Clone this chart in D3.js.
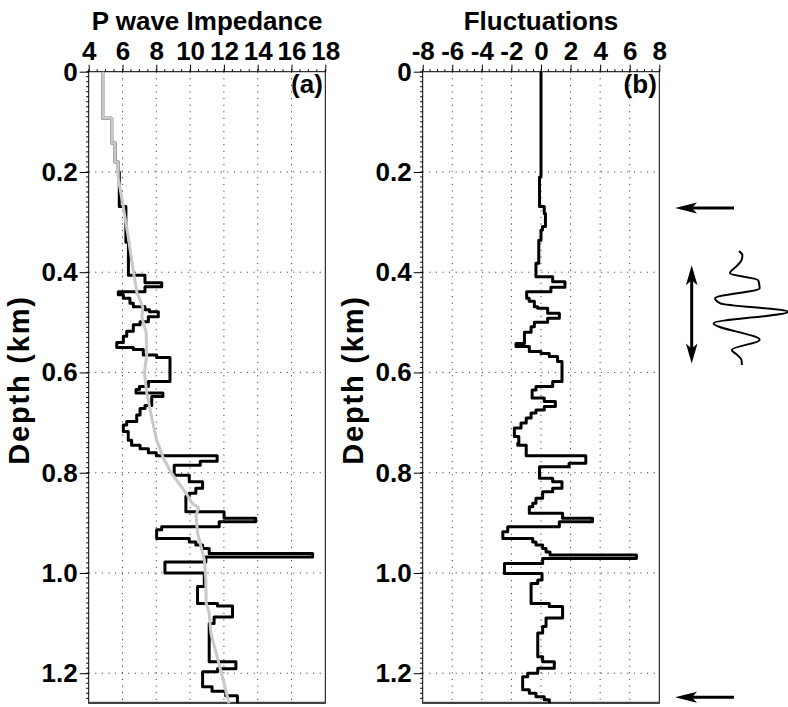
<!DOCTYPE html>
<html>
<head>
<meta charset="utf-8">
<script src="https://cdn.jsdelivr.net/npm/d3@7"></script>
<style>
  body { margin: 0; background: #fff; }
  svg text { font-family: 'Liberation Sans', Arial, sans-serif; font-weight: bold; fill: #000; }
</style>
</head>
<body>
<script>
// 测井阻抗（分层：层顶深度 km，阻抗值）
const impDepth = [0, 0.093, 0.142, 0.18, 0.2, 0.269, 0.34, 0.406, 0.421, 0.429, 0.439, 0.445, 0.452, 0.462,
    0.469, 0.475, 0.479, 0.489, 0.499, 0.505, 0.518, 0.528, 0.54, 0.55, 0.554, 0.565, 0.57, 0.618, 0.628,
    0.634, 0.641, 0.648, 0.666, 0.672, 0.685, 0.698, 0.705, 0.718, 0.735, 0.745, 0.752, 0.76, 0.766, 0.777,
    0.785, 0.805, 0.818, 0.831, 0.841, 0.847, 0.878, 0.891, 0.898, 0.908, 0.914, 0.931, 0.938, 0.944, 0.951,
    0.961, 0.968, 0.978, 1.0, 1.027, 1.061, 1.066, 1.088, 1.101, 1.177, 1.191, 1.197, 1.227, 1.236, 1.245];
const impValue = [4.83, 5.36, 5.56, 5.75, 5.81, 6.2, 6.35, 7.33, 8.32, 7.33, 5.75, 6.05, 6.44, 6.64,
    7.33, 7.6, 8.12, 7.53, 7.04, 6.64, 6.25, 6.05, 5.66, 6.64, 7.23, 8.02, 8.81, 7.53, 7.0,
    6.8, 8.39, 7.73, 7.33, 7.04, 6.84, 6.25, 6.05, 6.34, 6.54, 7.04, 7.53, 8.0, 11.6, 10.6,
    9.06, 9.95, 10.74, 10.34, 9.95, 9.75, 12.01, 13.88, 11.72, 8.32, 8.02, 9.95, 10.34, 10.74, 11.13,
    17.25, 10.93, 8.51, 10.84, 10.44, 11.62, 12.51, 11.42, 11.13, 12.71, 11.62, 10.74, 11.3, 12.11, 12.8];

// 趋势线（灰色）
const trendDepth = [0, 0.093, 0.093, 0.142, 0.142, 0.18, 0.18, 0.213, 0.27, 0.33, 0.4, 0.44, 0.47, 0.49,
    0.52, 0.566, 0.6, 0.64, 0.69, 0.735, 0.77, 0.8, 0.84, 0.862, 0.87, 0.885, 0.92, 0.973, 1.013, 1.06,
    1.08, 1.12, 1.17, 1.22, 1.26];
const trendValue = [4.83, 4.83, 5.36, 5.36, 5.56, 5.56, 5.75, 5.75, 6.05, 6.34, 6.65, 6.85, 7.2, 7.15,
    7.4, 7.43, 7.3, 7.43, 7.73, 8.02, 8.41, 8.88, 9.75, 10.15, 10.5, 10.35, 10.44, 10.84, 10.93, 10.95,
    11.13, 11.23, 11.62, 12.01, 12.3];

// 波动（分层）
const flucDepth = [0, 0.21, 0.269, 0.283, 0.309, 0.316, 0.336, 0.382, 0.409, 0.419, 0.43, 0.439, 0.452,
    0.458, 0.469, 0.472, 0.482, 0.492, 0.5, 0.509, 0.52, 0.542, 0.548, 0.558, 0.562, 0.568, 0.578, 0.618,
    0.628, 0.635, 0.651, 0.658, 0.668, 0.675, 0.681, 0.691, 0.701, 0.711, 0.728, 0.741, 0.745, 0.766,
    0.781, 0.788, 0.811, 0.818, 0.831, 0.838, 0.851, 0.861, 0.868, 0.881, 0.891, 0.898, 0.908, 0.918,
    0.931, 0.938, 0.944, 0.951, 0.958, 0.964, 0.971, 0.981, 1.001, 1.014, 1.021, 1.061, 1.067, 1.09,
    1.107, 1.12, 1.167, 1.177, 1.19, 1.2, 1.207, 1.233, 1.24, 1.247, 1.253];
const flucValue = [0, -0.1, 0.22, 0.3, 0.1, 0, -0.15, -0.34, 0.79, 1.62, 0.67, -0.97, -0.8,
    -0.45, -0.22, 0.45, 1.24, 0.45, -0.45, -0.67, -1.12, -1.69, -0.79, 0, 0.56, 1.12, 1.42, 0.79,
    -0.34, -0.6, 0.22, 0.97, 0.22, -0.34, -0.67, -1.0, -1.35, -1.8, -1.5, -1.57, -1.0, 3.03,
    1.9, -0.1, 0.79, 1.42, 0.79, 0.11, -0.34, -0.56, -0.79, 1.46, 3.48, 1.24, -2.25, -2.58,
    -0.56, -0.34, 0.11, 0.34, 0.61, 6.45, 0.11, -2.47, 0.07, -0.22, -0.67, 0.56, 1.46, 0.34,
    0.11, -0.22, 0.11, 0.9, -0.22, -0.9, -1.24, -0.79, -0.34, 0.22, 0.56];

// 刻度
const impTicks = [4, 6, 8, 10, 12, 14, 16, 18];
const flucTicks = [-8, -6, -4, -2, 0, 2, 4, 6, 8];
const depthTicks = [0, 0.2, 0.4, 0.6, 0.8, 1.0, 1.2];
const depthMax = 1.26;

// 右侧标注：箭头深度、子波
const arrowDepths = [0.272, 1.248];
const spanDepths = [0.386, 0.582];
const waveDepth = [0.358, 0.366, 0.374, 0.386, 0.402, 0.416, 0.432, 0.452, 0.462, 0.479, 0.502, 0.535, 0.555, 0.565, 0.575, 0.585];
const waveAmp = [-0.02, 0.05, 0.04, -0.05, -0.21, 0.38, 0.41, -0.52, -0.41, 1.0, -0.55, 0.41, -0.17, -0.06, 0.03, 0.04];

// svg区域大小
const width = 788;
const height = 707;
const plotTop = 71.7;
const plotBottom = 703.3;
const fontSize = 26;

const svg = d3.select('body')
    .append('svg')
    .attr('width', width)
    .attr('height', height);

const y = d3.scaleLinear().domain([0, depthMax]).range([plotTop, plotBottom]);

/**
 * 画一个面板
 */
function drawPanel(cfg) {
    const x = d3.scaleLinear().domain(cfg.domain).range([cfg.x0, cfg.x1]);
    const g = svg.append('g');

    // 网格
    g.append('g').selectAll('line')
        .data(cfg.ticks.slice(1, -1))
        .enter().append('line')
        .attr('x1', d => x(d)).attr('x2', d => x(d))
        .attr('y1', plotTop).attr('y2', plotBottom)
        .attr('stroke', '#222').attr('stroke-width', 1)
        .attr('stroke-dasharray', '1,5.6');
    g.append('g').selectAll('line')
        .data(depthTicks.slice(1))
        .enter().append('line')
        .attr('x1', cfg.x0).attr('x2', cfg.x1)
        .attr('y1', d => y(d)).attr('y2', d => y(d))
        .attr('stroke', '#222').attr('stroke-width', 1)
        .attr('stroke-dasharray', '1,5.6');

    // 次刻度
    const minorX = d3.range(cfg.domain[0], cfg.domain[1] + 0.001, 0.5);
    g.append('g').selectAll('line')
        .data(minorX)
        .enter().append('line')
        .attr('x1', d => x(d)).attr('x2', d => x(d))
        .attr('y1', plotTop).attr('y2', plotTop - 2.5)
        .attr('stroke', '#000');
    const minorY = d3.range(0, depthMax, 0.01);
    g.append('g').selectAll('line')
        .data(minorY)
        .enter().append('line')
        .attr('x1', cfg.x0).attr('x2', cfg.x0 - 2.5)
        .attr('y1', d => y(d)).attr('y2', d => y(d))
        .attr('stroke', '#000');

    // 边框
    g.append('rect')
        .attr('x', cfg.x0).attr('y', plotTop)
        .attr('width', cfg.x1 - cfg.x0).attr('height', plotBottom - plotTop)
        .attr('fill', 'none').attr('stroke', '#000').attr('stroke-width', 1);
    g.append('line')
        .attr('x1', cfg.x0).attr('x2', cfg.x1)
        .attr('y1', plotBottom - 0.5).attr('y2', plotBottom - 0.5)
        .attr('stroke', '#444').attr('stroke-width', 2);

    // 坐标轴
    const top = g.append('g')
        .attr('transform', `translate(0,${plotTop})`)
        .call(d3.axisTop(x).tickValues(cfg.ticks).tickSize(7).tickPadding(4.5).tickFormat(d => String(d)));
    top.select('.domain').remove();
    top.selectAll('text').attr('font-size', fontSize).attr('font-family', null);

    const left = g.append('g')
        .attr('transform', `translate(${cfg.x0},0)`)
        .call(d3.axisLeft(y).tickValues(depthTicks).tickSize(9).tickPadding(2)
            .tickFormat(d => d === 0 ? '0' : d3.format('.1f')(d)));
    left.select('.domain').remove();
    left.selectAll('text').attr('font-size', fontSize).attr('font-family', null);

    // 标题
    g.append('text')
        .attr('x', (cfg.x0 + cfg.x1) / 2).attr('y', 30)
        .attr('text-anchor', 'middle').attr('font-size', fontSize)
        .text(cfg.title);
    g.append('text')
        .attr('x', cfg.x1 - 2.5).attr('y', 93)
        .attr('text-anchor', 'end').attr('font-size', fontSize)
        .text(cfg.tag);
    g.append('text')
        .attr('transform', `translate(${cfg.x0 - 59.5},${380}) rotate(-90)`)
        .attr('text-anchor', 'middle').attr('font-size', 29)
        .attr('letter-spacing', 1.8)
        .text('Depth (km)');

    // 曲线
    cfg.curves.forEach(c => {
        const pts = c.depth.map((d, i) => ({d: d, v: c.value[i]}));
        if (c.step) {
            pts.push({d: depthMax, v: c.value[c.value.length - 1]});
        }
        const line = d3.line()
            .x(p => x(p.v))
            .y(p => y(p.d))
            .curve(c.step ? d3.curveStepBefore : d3.curveLinear);
        g.append('path')
            .attr('d', line(pts))
            .attr('fill', 'none')
            .attr('stroke', c.color)
            .attr('stroke-width', 3)
            .attr('stroke-linejoin', 'round');
    });
}

drawPanel({
    x0: 88.7, x1: 325.3, domain: [4, 18], ticks: impTicks,
    title: 'P wave Impedance', tag: '(a)',
    curves: [
        {depth: impDepth, value: impValue, step: true, color: '#000'},
        {depth: trendDepth, value: trendValue, step: false, color: '#c8c8c8'}
    ]
});

drawPanel({
    x0: 422.7, x1: 659.3, domain: [-8, 8], ticks: flucTicks,
    title: 'Fluctuations', tag: '(b)',
    curves: [
        {depth: flucDepth, value: flucValue, step: true, color: '#000'}
    ]
});

// 右侧箭头
const ann = svg.append('g');
arrowDepths.forEach(d => {
    const yy = y(d);
    ann.append('line')
        .attr('x1', 688).attr('x2', 734)
        .attr('y1', yy).attr('y2', yy)
        .attr('stroke', '#000').attr('stroke-width', 3);
    ann.append('path')
        .attr('d', `M675,${yy}L697,${yy - 5.5}L692,${yy}L697,${yy + 5.5}Z`)
        .attr('fill', '#000');
});

// 双向箭头
const ya = y(spanDepths[0]);
const yb = y(spanDepths[1]);
ann.append('line')
    .attr('x1', 691.7).attr('x2', 691.7)
    .attr('y1', ya + 10).attr('y2', yb - 10)
    .attr('stroke', '#000').attr('stroke-width', 3);
ann.append('path')
    .attr('d', `M691.7,${ya}L697.5,${ya + 20}L691.7,${ya + 15}L685.9,${ya + 20}Z`)
    .attr('fill', '#000');
ann.append('path')
    .attr('d', `M691.7,${yb}L697.5,${yb - 20}L691.7,${yb - 15}L685.9,${yb - 20}Z`)
    .attr('fill', '#000');

// 子波
const ampX = d3.scaleLinear().domain([-1, 1]).range([692, 788]);
const wave = d3.line()
    .x((d, i) => ampX(waveAmp[i]))
    .y(d => y(d))
    .curve(d3.curveMonotoneY);
ann.append('path')
    .attr('d', wave(waveDepth))
    .attr('fill', 'none')
    .attr('stroke', '#000')
    .attr('stroke-width', 2)
    .attr('stroke-linejoin', 'round');
</script>
</body>
</html>
